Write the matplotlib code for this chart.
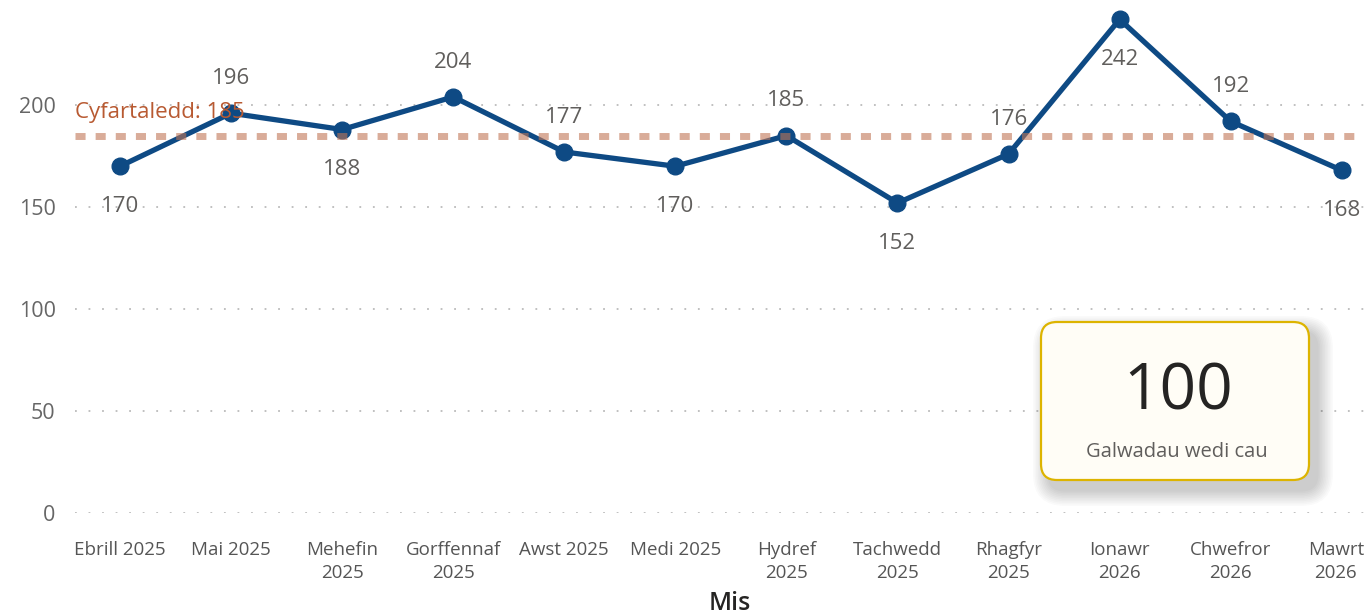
import matplotlib
matplotlib.use("Agg")
import matplotlib.pyplot as plt
from matplotlib.patches import FancyBboxPatch
from matplotlib.transforms import ScaledTranslation
import numpy as np

months = ["Ebrill 2025", "Mai 2025", "Mehefin\n2025", "Gorffennaf\n2025", "Awst 2025",
          "Medi 2025", "Hydref\n2025", "Tachwedd\n2025", "Rhagfyr\n2025", "Ionawr\n2026",
          "Chwefror\n2026", "Mawrt\n2026"]
calls = [170, 196, 188, 204, 177, 170, 185, 152, 176, 242, 192, 168]
label_pos = ["below", "above", "below", "above", "above", "below", "above", "below",
             "above", "below", "above", "below"]
average = 185
card_value = "100"
card_label = "Galwadau wedi cau"
yticks = [0, 50, 100, 150, 200]

plt.rcParams['font.family'] = ['Open Sans', 'DejaVu Sans']

W, H = 1364, 615
fig = plt.figure(figsize=(W / 100, H / 100), dpi=100)
ax = fig.add_axes([75 / W, (H - 513) / H, 1 - 75 / W, 513 / H])
x = np.arange(len(months))

ax.set_xlim(-0.405, 11.2)
ax.set_ylim(0, 251.5)

for yv in yticks:
    ax.axhline(yv, color='#BBBBBB', lw=1.3, linestyle=(0, (1, 6.5)), zorder=1)

ax.plot(x, calls, color='#0E4A84', lw=3.8, marker='o', markersize=12,
        solid_capstyle='round', zorder=3)

ax.axhline(average, color='#C07555', alpha=0.6, lw=5, linestyle=(0, (1.45, 1.45)), zorder=4)
ax.annotate(f"Cyfartaledd: {average}", (0.0, 200), xycoords=ax.get_yaxis_transform(),
            xytext=(0, -5.5), textcoords='offset points', color='#B85A32', fontsize=16,
            ha='left', va='center', zorder=5)

for xi, v, p in zip(x, calls, label_pos):
    off = 25 if p == "above" else -29
    ax.annotate(str(v), (xi, v), xytext=(0, off), textcoords='offset points',
                ha='center', va='center', fontsize=16, color='#605E5C', zorder=5)

ax.set_yticks(yticks)
ax.set_xticks(x)
ax.set_xticklabels(months)
ax.tick_params(axis='y', length=0, pad=14, labelsize=15.5, labelcolor='#666666')
ax.tick_params(axis='x', length=0, pad=20, labelsize=13.5, labelcolor='#555555')
xlbls = ax.get_xticklabels()
for lbl in xlbls:
    lbl.set_linespacing(1.35)
    lbl.set_va('top')
xlbls[-1].set_transform(xlbls[-1].get_transform() + ScaledTranslation(-6 / 100, 0, fig.dpi_scale_trans))
for s in ax.spines.values():
    s.set_visible(False)

fig.text(730 / W, 1 - 604 / H, "Mis", ha='center', va='center', fontsize=18,
         color='#252423', fontweight='semibold')

# card with shadow
cx0, cy0, cw, ch = 1041, 322, 268, 158
for i in range(10, 0, -1):
    grow = i * 1.6
    sh = FancyBboxPatch(((cx0 + 8 - grow) / W, 1 - (cy0 + ch + 10 + grow) / H),
                        (cw + 2 * grow) / W, (ch + 2 * grow) / H,
                        boxstyle=f"round,pad=0,rounding_size={(16 + grow) / W}",
                        transform=fig.transFigure, facecolor='black', edgecolor='none',
                        alpha=0.018, zorder=8, mutation_aspect=W / H)
    fig.add_artist(sh)
card = FancyBboxPatch((cx0 / W, 1 - (cy0 + ch) / H), cw / W, ch / H,
                      boxstyle=f"round,pad=0,rounding_size={16 / W}",
                      transform=fig.transFigure, facecolor='#FFFDF6', edgecolor='#DDB400',
                      lw=1.6, zorder=9, mutation_aspect=W / H)
fig.add_artist(card)
fig.text(1178 / W, 1 - 392 / H, card_value, ha='center', va='center', fontsize=46,
         color='#252423', zorder=10)
fig.text(1177 / W, 1 - 452 / H, card_label, ha='center', va='center', fontsize=14.5,
         color='#605E5C', zorder=10)

fig.savefig("out.png", dpi=100)
